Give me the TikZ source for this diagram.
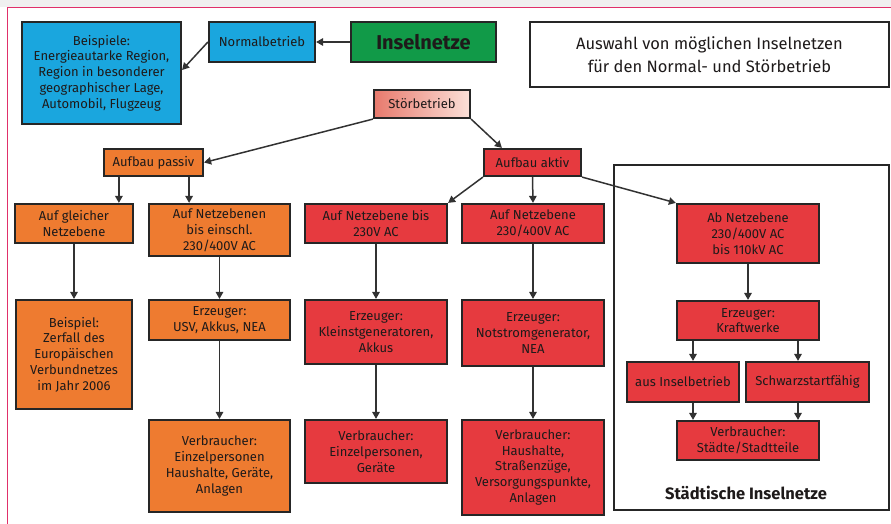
\documentclass[tikz,border=0pt]{standalone}
\usepackage{fontspec}
\setmainfont{Fira Sans}
\usepackage{tikz}
\usetikzlibrary{calc, arrows.meta, positioning}
\usepackage{xcolor}

\definecolor{netzblau}{RGB}{26,166,222}
\definecolor{netzgruen}{RGB}{17,154,72}
\definecolor{netzorange}{RGB}{238,123,48}
\definecolor{netzrot}{RGB}{230,58,63}
\definecolor{stoerlinks}{RGB}{232,122,109}
\definecolor{stoerrechts}{RGB}{251,224,216}
\definecolor{rahmenpink}{RGB}{224,48,106}
\definecolor{pfeilgrau}{RGB}{50,50,50}
\definecolor{schrift}{RGB}{30,26,26}

\begin{document}
\begin{tikzpicture}[x=1pt, y=-1pt,
    kasten/.style={draw=black!85, line width=2.2pt, align=center, inner sep=1pt,
                   font=\fontsize{13}{15.8}\selectfont, text=schrift},
    blau/.style={kasten, fill=netzblau},
    orange/.style={kasten, fill=netzorange},
    rot/.style={kasten, fill=netzrot},
    pfeil/.style={draw=pfeilgrau, line width=1.5pt,
                  -{Triangle[length=7pt, width=7.5pt]}}
  ]
    \useasboundingbox (0,0) rectangle (891,524);
    \fill[black!6] (0,0) rectangle (891,7);
    \draw[rahmenpink, line width=1pt] (891,8) -- (7,8) -- (7,524);

    % Kopfzeile
    \node[blau, minimum width=159, minimum height=102] (beisp) at (101.5,73)
      {Beispiele:\\Energieautarke Region,\\Region in besonderer\\geographischer Lage,\\Automobil, Flugzeug};
    \node[blau, minimum width=106, minimum height=40] (normal) at (262,42) {Normalbetrieb};
    \node[kasten, fill=netzgruen, minimum width=145, minimum height=40,
          font=\fontsize{20}{24}\selectfont\bfseries] (insel) at (423.5,42) {Inselnetze};
    \node[kasten, fill=white, minimum width=359, minimum height=65,
          font=\fontsize{16.5}{23}\selectfont] (auswahl) at (709.5,54.5)
      {Auswahl von möglichen Inselnetzen\\für den Normal- und Störbetrieb};
    \node[kasten, left color=stoerlinks, right color=stoerrechts,
          minimum width=96, minimum height=28] (stoer) at (422,104) {Störbetrieb};

    % Aufbau
    \node[orange, minimum width=99, minimum height=27] (passiv) at (153.5,162.5) {Aufbau passiv};
    \node[rot, minimum width=97, minimum height=27] (aktiv) at (532.5,162.5) {Aufbau aktiv};

    % Staedtische Inselnetze
    \draw[black!85, line width=2.2pt] (614,165) rectangle (889,510);
    \node[font=\fontsize{16.5}{19}\selectfont\bfseries, text=schrift] (staedt) at (746,493)
      {Städtische Inselnetze};

    % Netzebenen
    \node[orange, minimum width=118, minimum height=39] (gleich) at (74,223.5)
      {Auf gleicher\\Netzebene};
    \node[orange, minimum width=141, minimum height=52] (pnetz) at (219.5,230)
      {Auf Netzebenen\\bis einschl.\\230/400V AC};
    \node[rot, minimum width=142, minimum height=39] (klein) at (376,223.5)
      {Auf Netzebene bis\\230V AC};
    \node[rot, minimum width=142, minimum height=39] (mittel) at (533,223.5)
      {Auf Netzebene\\230/400V AC};
    \node[rot, minimum width=142, minimum height=59] (ab) at (748,233.5)
      {Ab Netzebene\\230/400V AC\\bis 110kV AC};

    % Erzeuger
    \node[orange, minimum width=116, minimum height=109] (zerfall) at (74,354.5)
      {Beispiel:\\Zerfall des\\Europäischen\\Verbundnetzes\\im Jahr 2006};
    \node[orange, minimum width=141, minimum height=40] (perz) at (219.5,320)
      {Erzeuger:\\USV, Akkus, NEA};
    \node[rot, minimum width=142, minimum height=64] (kerz) at (376,332)
      {Erzeuger:\\Kleinstgeneratoren,\\Akkus};
    \node[rot, minimum width=142, minimum height=66] (merz) at (533,333)
      {Erzeuger:\\Notstromgenerator,\\NEA};
    \node[rot, minimum width=142, minimum height=39] (kraft) at (748,320.5)
      {Erzeuger:\\Kraftwerke};
    \node[rot, minimum width=112, minimum height=40] (ausinsel) at (683,382) {aus Inselbetrieb};
    \node[rot, minimum width=123, minimum height=40] (schwarz) at (807.5,382) {Schwarzstartfähig};

    % Verbraucher
    \node[orange, minimum width=141, minimum height=92] (pverb) at (219.5,466)
      {Verbraucher:\\Einzelpersonen\\Haushalte, Geräte,\\Anlagen};
    \node[rot, minimum width=142, minimum height=63] (kverb) at (376,451.5)
      {Verbraucher:\\Einzelpersonen,\\Geräte};
    \node[rot, minimum width=142, minimum height=95] (mverb) at (533,467.5)
      {Verbraucher:\\Haushalte,\\Straßenzüge,\\Versorgungspunkte,\\Anlagen};
    \node[rot, minimum width=142, minimum height=39] (sverb) at (748,440.5)
      {Verbraucher:\\Städte/Stadtteile};

    % Pfeile
    \draw[pfeil] (insel.west) -- (normal.east);
    \draw[pfeil] (normal.west) -- ([yshift=3pt]beisp.east);
    \draw[pfeil] (stoer.south west) -- (passiv.east);
    \draw[pfeil] (stoer.south east) -- ([xshift=19pt]aktiv.north west);
    \draw[pfeil] ([xshift=16pt]passiv.south west) -- ([xshift=16pt]passiv.south west |- gleich.north);
    \draw[pfeil] ([xshift=-15pt]passiv.south east) -- ([xshift=-15pt]passiv.south east |- pnetz.north);
    \draw[pfeil] (aktiv.south west) -- (klein.north east);
    \draw[pfeil] (aktiv.south) -- (mittel.north);
    \draw[pfeil] (aktiv.south east) -- (ab.north west);

    \draw[pfeil] (gleich.south) -- (zerfall.north);
    \draw[pfeil] (pnetz.south) -- (perz.north);
    \draw[pfeil] (perz.south) -- (pverb.north);
    \draw[pfeil] (klein.south) -- (kerz.north);
    \draw[pfeil] (kerz.south) -- (kverb.north);
    \draw[pfeil] (mittel.south) -- (merz.north);
    \draw[pfeil] (merz.south) -- (mverb.north);
    \draw[pfeil] (ab.south) -- (kraft.north);
    \draw[pfeil] ([xshift=10pt]ausinsel.north |- kraft.south) -- ([xshift=10pt]ausinsel.north);
    \draw[pfeil] ([xshift=-9.5pt]schwarz.north |- kraft.south) -- ([xshift=-9.5pt]schwarz.north);
    \draw[pfeil] ([xshift=10pt]ausinsel.south) -- ([xshift=10pt]ausinsel.south |- sverb.north);
    \draw[pfeil] ([xshift=-9.5pt]schwarz.south) -- ([xshift=-9.5pt]schwarz.south |- sverb.north);
\end{tikzpicture}
\end{document}
